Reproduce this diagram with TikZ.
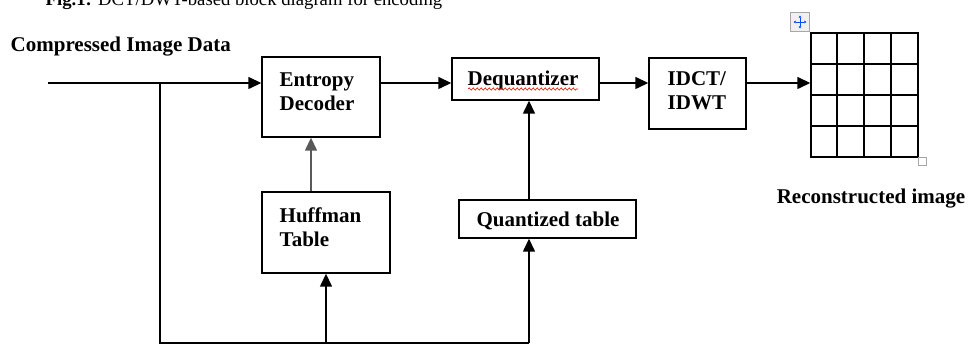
\documentclass[tikz,border=0pt]{standalone}
\usepackage{fontspec}
\setmainfont{Liberation Serif}
\usetikzlibrary{arrows.meta,decorations.pathmorphing}
\begin{document}
\begin{tikzpicture}[x=1pt,y=-1pt,
  line width=1.4pt,
  arr/.style={-{Triangle[length=13pt,width=12pt]}},
  blk/.style={draw,line width=1.4pt,inner sep=0pt},
  lbl/.style={font=\fontsize{21}{24}\selectfont\bfseries,align=left,inner sep=0pt},
  captxt/.style={font=\fontsize{18.7}{22}\selectfont,inner sep=0pt}]
\useasboundingbox (0,0) rectangle (969,344);
\clip (0,0) rectangle (969,344);
% caption (cut at top)
\node[captxt,anchor=base west] (caption) at (45,6) {\textbf{Fig.1:} DCT/DWT-based block diagram for encoding};
\node[lbl,anchor=west] (cid) at (10,47) {Compressed Image Data};
% boxes
\node[blk,minimum width=118pt,minimum height=80pt] (ent) at (321,97) {};
\node[lbl,anchor=west] (entt) at (279,91.5) {Entropy\\Decoder};
\node[blk,minimum width=147pt,minimum height=42pt] (deq) at (525.5,79) {};
\node[lbl,anchor=center] (deqt) at (523,80) {Dequantizer};
\draw[red,line width=0.6pt,decorate,decoration={snake,amplitude=1.1pt,segment length=4pt}] (468,89) -- (578,89);
\node[blk,minimum width=97pt,minimum height=71pt] (idct) at (697.5,93.5) {};
\node[lbl,anchor=west] (idctt) at (667,90.5) {IDCT/\\IDWT};
\node[blk,minimum width=128pt,minimum height=81pt] (huf) at (326,232.5) {};
\node[lbl,anchor=west] (huft) at (279,227) {Huffman\\Table};
\node[blk,minimum width=177pt,minimum height=38pt] (qt) at (547.5,219) {};
\node[lbl,anchor=center] (qtt) at (548,221) {Quantized table};
% grid
\node[blk,minimum width=107pt,minimum height=124pt] (grid) at (864.5,95) {};
\foreach \gx in {837,864,891} \draw (\gx,33) -- (\gx,157);
\foreach \gy in {64,95,126} \draw (811,\gy) -- (918,\gy);
\node[lbl,anchor=center] (rec) at (871,199) {Reconstructed image};
% handles
\node[draw=gray!70,fill=gray!12,line width=0.8pt,minimum size=19pt,inner sep=0pt] (mv) at (800,22) {};
\draw[blue!70!cyan,line width=0.8pt,{Triangle[length=2.2pt,width=2.6pt]}-{Triangle[length=2.2pt,width=2.6pt]}] (793.5,22) -- (806.5,22);
\draw[blue!70!cyan,line width=0.8pt,{Triangle[length=2.2pt,width=2.6pt]}-{Triangle[length=2.2pt,width=2.6pt]}] (800,15.5) -- (800,28.5);
\node[draw=gray!70,fill=white,line width=0.8pt,minimum size=8pt,inner sep=0pt] (rs) at (922.5,161.5) {};
% connectors
\coordinate (in) at (48,83);
\coordinate (br) at (160,83);
\coordinate (bl) at (160,343);
\coordinate (bq) at (529,343);
\coordinate (hx) at (311,0);
\coordinate (qx) at (529,0);
\draw[arr] (in) -- (in -| ent.west);
\draw (br) -- (bl) -- (bq);
\draw[arr] (huf.south |- bl) -- (huf.south);
\draw[arr] (bq) -- (qt.south -| qx);
\draw[arr,draw=black!65] (huf.north -| hx) -- (ent.south -| hx);
\draw[arr] (qt.north -| qx) -- (deq.south -| qx);
\draw[arr] (ent.east |- in) -- (deq.west |- in);
\draw[arr] (deq.east |- in) -- (idct.west |- in);
\draw[arr] (idct.east |- in) -- (grid.west |- in);
\end{tikzpicture}
\end{document}
